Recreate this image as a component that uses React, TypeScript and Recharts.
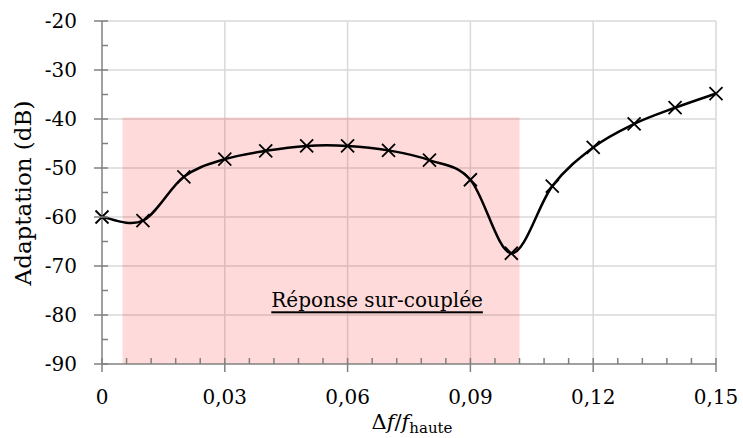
import {
  LineChart,
  Line,
  XAxis,
  YAxis,
  CartesianGrid,
  ReferenceArea,
  ReferenceDot,
} from 'recharts'

// Δf / f_haute
const deltaF = [0, 0.01, 0.02, 0.03, 0.04, 0.05, 0.06, 0.07, 0.08, 0.09, 0.1, 0.11, 0.12, 0.13, 0.14, 0.15]
// Adaptation (dB)
const adaptation = [-60, -60.75, -51.8, -48.2, -46.5, -45.5, -45.5, -46.4, -48.4, -52.4, -67.4, -53.7, -45.8, -41, -37.7, -34.8]

const xMajorTicks = [0, 0.03, 0.06, 0.09, 0.12, 0.15]
const xMinorTicks = Array.from({ length: 26 }, (_, i) => +(i * 0.006).toFixed(3))
const yMajorTicks = [-90, -80, -70, -60, -50, -40, -30, -20]
const yMinorTicks = Array.from({ length: 15 }, (_, i) => -90 + i * 5)

const zone = { x1: 0.005, x2: 0.102, y1: -90, y2: -39.7 }
const zoneLabel = { x: 0.0672, y: -77, text: 'Réponse sur-couplée' }

const FONT = '"DejaVu Serif", serif'
const AXIS = '#808080'

const data = deltaF.map((x, i) => ({ x, y: adaptation[i] }))

const isMajor = (list: number[], v: number) => list.some((m) => Math.abs(m - v) < 1e-9)
const fmtX = (v: number) => (v === 0 ? '0' : v.toFixed(2).replace('.', ','))

// Excel-like smoothed line (Catmull-Rom through the points)
function smoothCurve(context: any) {
  let pts: number[][] = []
  return {
    areaStart() {},
    areaEnd() {},
    lineStart() {
      pts = []
    },
    point(x: number, y: number) {
      pts.push([+x, +y])
    },
    lineEnd() {
      if (!pts.length) return
      context.moveTo(pts[0][0], pts[0][1])
      for (let i = 0; i < pts.length - 1; i++) {
        const p0 = pts[i - 1] || pts[i]
        const p1 = pts[i]
        const p2 = pts[i + 1]
        const p3 = pts[i + 2] || pts[i + 1]
        context.bezierCurveTo(
          p1[0] + (p2[0] - p0[0]) / 6,
          p1[1] + (p2[1] - p0[1]) / 6,
          p2[0] - (p3[0] - p1[0]) / 6,
          p2[1] - (p3[1] - p1[1]) / 6,
          p2[0],
          p2[1]
        )
      }
    },
  }
}

function XTick(props: any) {
  const { x, y, payload } = props
  const major = isMajor(xMajorTicks, payload.value)
  return (
    <g>
      <line x1={x} x2={x} y1={y - 6} y2={major ? y + 8 : y} stroke={AXIS} strokeWidth={1.5} />
      {major && (
        <text x={x} y={y + 40} textAnchor="middle" fontFamily={FONT} fontSize={20} fill="#000">
          {fmtX(payload.value)}
        </text>
      )}
    </g>
  )
}

function YTick(props: any) {
  const { x, y, payload } = props
  const major = isMajor(yMajorTicks, payload.value)
  return (
    <g>
      <line x1={major ? x - 8 : x} x2={x + 6} y1={y} y2={y} stroke={AXIS} strokeWidth={1.5} />
      {major && (
        <text x={x - 25} y={y + 7} textAnchor="end" fontFamily={FONT} fontSize={20} fill="#000">
          {payload.value}
        </text>
      )}
    </g>
  )
}

function CrossDot(props: any) {
  const { cx, cy } = props
  if (cx == null || cy == null) return null
  const s = 6.5
  return (
    <path
      d={`M${cx - s},${cy - s}L${cx + s},${cy + s}M${cx - s},${cy + s}L${cx + s},${cy - s}`}
      stroke="#000"
      strokeWidth={1.8}
      fill="none"
    />
  )
}

export default function App() {
  return (
    <div style={{ position: 'absolute', left: 0, top: 0, width: 743, height: 438, background: '#fff' }}>
      <LineChart width={743} height={438} data={data} margin={{ top: 21, right: 27, bottom: 0, left: 0 }}>
        <CartesianGrid
          stroke="#d9d9d9"
          strokeWidth={1.5}
          horizontalValues={[-80, -70, -60, -50, -40, -30, -20]}
          verticalValues={[0.03, 0.06, 0.09, 0.12, 0.15]}
        />
        <XAxis
          dataKey="x"
          type="number"
          domain={[0, 0.15]}
          ticks={xMinorTicks}
          interval={0}
          tickSize={0}
          tickMargin={0}
          tick={<XTick />}
          tickLine={false}
          stroke={AXIS}
          strokeWidth={1.5}
          height={74}
        />
        <YAxis
          type="number"
          domain={[-90, -20]}
          ticks={yMinorTicks}
          interval={0}
          tickSize={0}
          tickMargin={0}
          tick={<YTick />}
          tickLine={false}
          stroke={AXIS}
          strokeWidth={1.5}
          width={102}
        />
        <Line
          dataKey="y"
          type={smoothCurve as any}
          stroke="#000"
          strokeWidth={2.5}
          dot={<CrossDot />}
          activeDot={false}
          isAnimationActive={false}
        />
        <ReferenceArea
          x1={zone.x1}
          x2={zone.x2}
          y1={zone.y1}
          y2={zone.y2}
          fill="#ff1a1f"
          fillOpacity={0.16}
          stroke="none"
        />
        <ReferenceDot
          x={zoneLabel.x}
          y={zoneLabel.y}
          r={0}
          shape={(p: any) => (
            <text
              x={p.cx}
              y={p.cy}
              textAnchor="middle"
              dominantBaseline="central"
              fontFamily={FONT}
              fontSize={20}
              textDecoration="underline"
              fill="#000"
            >
              {zoneLabel.text}
            </text>
          )}
        />
      </LineChart>
      <svg width={743} height={438} style={{ position: 'absolute', left: 0, top: 0, pointerEvents: 'none' }}>
        <text
          transform="translate(31,193) rotate(-90)"
          textAnchor="middle"
          fontFamily={FONT}
          fontSize={23}
          fill="#000"
        >
          Adaptation (dB)
        </text>
        <text x={412} y={429} textAnchor="middle" fontFamily={FONT} fontSize={21} fill="#000">
          Δ<tspan fontStyle="italic">f</tspan>/<tspan fontStyle="italic">f</tspan>
          <tspan fontSize={15} dy={4}>haute</tspan>
        </text>
      </svg>
    </div>
  )
}
